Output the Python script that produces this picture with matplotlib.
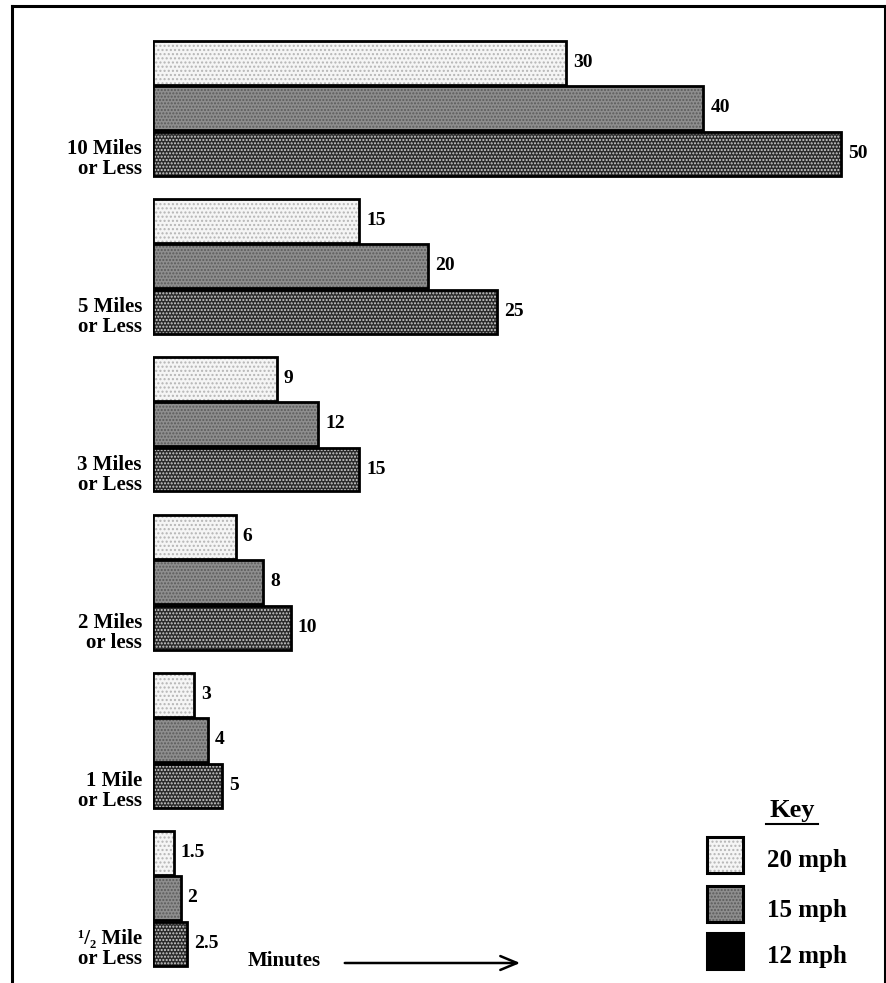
import matplotlib
matplotlib.use("Agg")
import matplotlib.pyplot as plt
from matplotlib.patches import Rectangle, FancyArrowPatch
from matplotlib.lines import Line2D
import numpy as np

plt.rcParams['font.family'] = ['Liberation Serif', 'DejaVu Serif']
plt.rcParams['font.weight'] = 'bold'

# ---------------- data ----------------
categories = ["10 Miles\nor Less", "5 Miles\nor Less", "3 Miles\nor Less",
              "2 Miles\nor less", "1 Mile\nor Less", "\u00b9/\u2082 Mile\nor Less"]
series_names = ["20 mph", "15 mph", "12 mph"]
mph20 = [30, 15, 9, 6, 3, 1.5]
mph15 = [40, 20, 12, 8, 4, 2]
mph12 = [50, 25, 15, 10, 5, 2.5]
value_labels20 = ["30", "15", "9", "6", "3", "1.5"]
value_labels15 = ["40", "20", "12", "8", "4", "2"]
value_labels12 = ["50", "25", "15", "10", "5", "2.5"]
axis_label = "Minutes"
key_title = "Key"

W, H = 886, 983
fig = plt.figure(figsize=(W / 100, H / 100), dpi=100)

def fx(px):
    return px / W

def fy(py):
    return 1 - py / H

# axes: zero at pixel 153, 13.76 px per minute
x0_px = 153
ppu = 13.76
ax = fig.add_axes([fx(x0_px), 0, 1 - fx(x0_px), 1])
ax.set_xlim(0, (W - x0_px) / ppu)
pitch_px = 158.0
ax.set_ylim((H - 108) / pitch_px, -108 / pitch_px)
ax.axis('off')

groups = np.arange(len(categories))
offset = 45.5 / pitch_px
height = 44.0 / pitch_px

styles = [
    dict(face='#f5f5f5', hatch='....', hcol='#b5b5b5'),
    dict(face='#8e8e8e', hatch='.....', hcol='#5a5a5a'),
    dict(face='#2a2a2a', hatch='.....', hcol='#cfcfcf'),
]
series = [mph20, mph15, mph12]
labels = [value_labels20, value_labels15, value_labels12]
plt.rcParams['hatch.linewidth'] = 1.0

for k, (vals, st, labs) in enumerate(zip(series, styles, labels)):
    y = groups + (k - 1) * offset
    ax.barh(y, vals, height=height, color=st['face'], hatch=st['hatch'],
            edgecolor=st['hcol'], linewidth=0, zorder=2)
    ax.barh(y, vals, height=height, fill=False, edgecolor='black',
            linewidth=2.0, zorder=3)
    for yy, v, lab in zip(y, vals, labs):
        ax.annotate(lab, xy=(v, yy), xytext=(5, 0), textcoords='offset points',
                    ha='left', va='center', fontsize=14, fontweight='bold')

for g, cat in zip(groups, categories):
    ax.annotate(cat, xy=(0, g + offset), xytext=(-8, -4), textcoords='offset points',
                ha='right', va='center', fontsize=15, fontweight='bold',
                linespacing=1.0, multialignment='right', annotation_clip=False)

# frame
frame_kw = dict(color='black', linewidth=2.2, transform=fig.transFigure)
fig.add_artist(Line2D([fx(12), fx(12)], [fy(6), fy(H + 5)], **frame_kw))
fig.add_artist(Line2D([fx(12), fx(885)], [fy(6), fy(6)], **frame_kw))
fig.add_artist(Line2D([fx(885), fx(885)], [fy(6), fy(H + 5)], **frame_kw))

# Minutes arrow
fig.text(fx(248), fy(961), axis_label, ha='left', va='center', fontsize=15,
         fontweight='bold')
fig.add_artist(FancyArrowPatch((fx(342), fy(963)), (fx(523), fy(963)),
                               transform=fig.transFigure, arrowstyle='->,head_length=12,head_width=5',
                               mutation_scale=1, color='black', linewidth=1.8))

# key
fig.text(fx(792), fy(811), key_title, ha='center', va='center', fontsize=19,
         fontweight='bold')
fig.add_artist(Line2D([fx(766), fx(818)], [fy(824), fy(824)], color='black',
                      linewidth=1.5, transform=fig.transFigure))
key_tops = [837, 886, 933]
key_styles = [
    dict(face='#f5f5f5', hatch='....', hcol='#b5b5b5'),
    dict(face='#8e8e8e', hatch='.....', hcol='#5a5a5a'),
    dict(face='#000000', hatch=None, hcol='#000000'),
]
for top, st, name in zip(key_tops, key_styles, series_names):
    r = Rectangle((fx(707), fy(top + 36)), fx(36), 36 / H, transform=fig.transFigure,
                  facecolor=st['face'], hatch=st['hatch'], edgecolor=st['hcol'],
                  linewidth=0)
    fig.add_artist(r)
    fig.add_artist(Rectangle((fx(707), fy(top + 36)), fx(36), 36 / H,
                             transform=fig.transFigure, fill=False,
                             edgecolor='black', linewidth=2.2))
    fig.text(fx(767), fy(top + 24), name, ha='left', va='center', fontsize=18,
             fontweight='bold')

fig.savefig("out.png", dpi=100)
